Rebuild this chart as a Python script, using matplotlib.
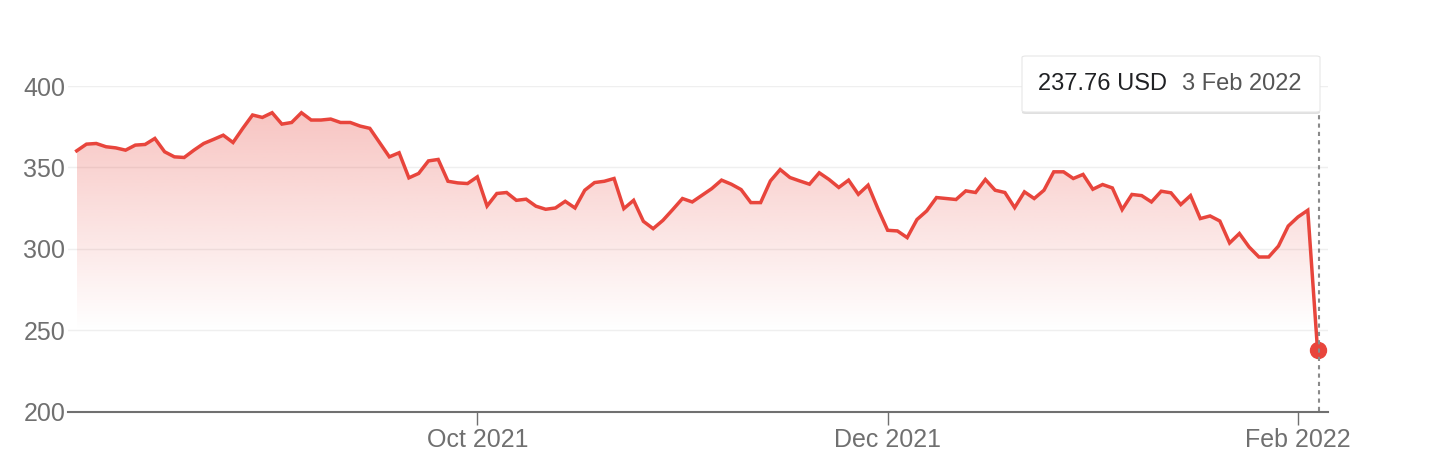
import numpy as np
import pandas as pd
import matplotlib
matplotlib.use('Agg')
import matplotlib.pyplot as plt
from matplotlib.patches import Polygon, FancyBboxPatch
from matplotlib.lines import Line2D

plt.rcParams['font.family'] = ['Liberation Sans', 'DejaVu Sans']

# trading days Aug 4 2021 .. Feb 3 2022 (NYSE holidays removed)
holidays = ['2021-09-06', '2021-11-25', '2021-12-24', '2022-01-17']
dates = pd.bdate_range('2021-08-04', '2022-02-03', freq='C', holidays=holidays)

prices_aug = [360.2, 364.3, 364.7, 362.7, 362.0, 360.6, 363.7, 364.1, 367.8, 359.6,
              356.5, 356.1, 360.6, 364.7, 367.2, 369.8, 365.3, 374.0, 382.2, 380.7]
prices_sep = [383.6, 376.6, 377.6, 383.6, 379.1, 379.1, 379.7, 377.6, 377.6, 375.4,
              374.0, 365.3, 356.5, 359.0, 343.6, 346.3, 354.0, 354.9, 341.5, 340.5, 340.1]
prices_oct = [344.2, 326.3, 334.0, 334.6, 329.8, 330.5, 326.2, 324.3, 325.1, 329.2,
              325.1, 336.0, 340.7, 341.5, 343.2, 324.7, 329.8, 316.9, 312.4, 317.5, 324.1]
prices_nov = [330.9, 328.8, 332.9, 337.0, 342.2, 339.7, 336.4, 328.4, 328.4, 341.7,
              348.7, 343.8, 341.7, 339.7, 346.7, 342.6, 337.7, 342.2, 333.5, 339.1, 324.7]
prices_dec = [311.4, 311.0, 306.9, 318.0, 323.3, 331.5, 330.9, 330.3, 335.6, 334.6,
              342.6, 336.0, 334.6, 325.3, 335.0, 330.9, 336.0, 347.3, 347.3, 343.2,
              345.7, 336.6]
prices_jan = [339.5, 337.4, 324.1, 333.4, 332.7, 328.8, 335.4, 334.4, 327.2, 332.7,
              318.6, 320.2, 317.1, 303.6, 309.4, 301.1, 295.0, 295.0, 301.7, 314.0]
prices_feb = [319.6, 323.7, 237.76]

prices = np.array(prices_aug + prices_sep + prices_oct + prices_nov +
                  prices_dec + prices_jan + prices_feb)
x = np.arange(len(prices))

tick_months = ['2021-10', '2021-12', '2022-02']
tick_labels = ['Oct 2021', 'Dec 2021', 'Feb 2022']
y_ticks = [200, 250, 300, 350, 400]

red = '#e8453c'
grey_txt = '#707070'

W, H = 1430, 472
fig = plt.figure(figsize=(W / 100, H / 100), dpi=100)
ax = fig.add_axes([68 / W, 1 - 411.7 / H, (1328 - 68) / W, (411.7 - 86) / H])

ax.set_xlim(-0.89, 128.07)
ax.set_ylim(200, 400)

# gradient fill under the line
ny = 300
yy = np.linspace(200, 400, ny)
alpha = np.clip(0.35 * (yy - 250) / 150, 0, 1)
grad = np.zeros((ny, 2, 4))
grad[..., 0] = 0xe8 / 255
grad[..., 1] = 0x45 / 255
grad[..., 2] = 0x3c / 255
grad[..., 3] = alpha[:, None]
im = ax.imshow(grad, extent=[x[0], x[-1], 200, 400], origin='lower',
               aspect='auto', interpolation='bilinear', zorder=1)
verts = np.vstack([np.column_stack([x, prices]), [[x[-1], 200], [x[0], 200]]])
poly = Polygon(verts, closed=True, facecolor='none', edgecolor='none')
ax.add_patch(poly)
im.set_clip_path(poly)

ax.plot(x, prices, color=red, lw=2.5, zorder=3, solid_joinstyle='miter')
ax.plot(x[-1], prices[-1], 'o', color=red, ms=11.5, zorder=4)

# axes styling
ax.set_yticks(y_ticks)
ax.set_yticklabels([str(v) for v in y_ticks])
ax.grid(axis='y', color='#efefef', lw=1)
ax.set_axisbelow(True)
for s in ['top', 'right', 'left']:
    ax.spines[s].set_visible(False)
ax.spines['bottom'].set_color('#707070')
ax.spines['bottom'].set_linewidth(1.5)
ax.spines['bottom'].set_zorder(5)

tick_pos = [int(np.argmax(dates.strftime('%Y-%m') == m)) for m in tick_months]
ax.set_xticks(tick_pos)
ax.set_xticklabels(tick_labels)
ax.tick_params(axis='x', length=9, width=1, color='#707070', pad=3,
               labelsize=18, labelcolor=grey_txt)
ax.tick_params(axis='y', length=0, pad=2, labelsize=18, labelcolor=grey_txt)

# hover line and tooltip
xl = 1318.5 / W
fig.add_artist(Line2D([xl, xl], [1 - 411 / H, 1 - 112 / H], color='#8a8a8a',
                      lw=1.5, ls=(0, (2, 2)), zorder=2))

bx0, bx1, by0, by1 = 1022 / W, 1320 / W, 1 - 112 / H, 1 - 56 / H
shadow = FancyBboxPatch((bx0, by0 - 2 / H), bx1 - bx0, by1 - by0,
                        boxstyle='round,pad=0,rounding_size=0.003',
                        transform=fig.transFigure, facecolor='#000000',
                        alpha=0.12, edgecolor='none', zorder=6)
box = FancyBboxPatch((bx0, by0), bx1 - bx0, by1 - by0,
                     boxstyle='round,pad=0,rounding_size=0.003',
                     transform=fig.transFigure, facecolor='white',
                     edgecolor='#e6e6e6', lw=0.8, zorder=7)
fig.add_artist(shadow)
fig.add_artist(box)
last_date = dates[-1]
fig.text(1038 / W, 1 - 84 / H, f'{prices[-1]:.2f} USD', fontsize=17,
         color='#202124', va='center', ha='left', zorder=8)
fig.text(1182 / W, 1 - 84 / H, f'{last_date.day} {last_date:%b %Y}', fontsize=17,
         color='#555555', va='center', ha='left', zorder=8)

fig.savefig('out.png', dpi=100)
